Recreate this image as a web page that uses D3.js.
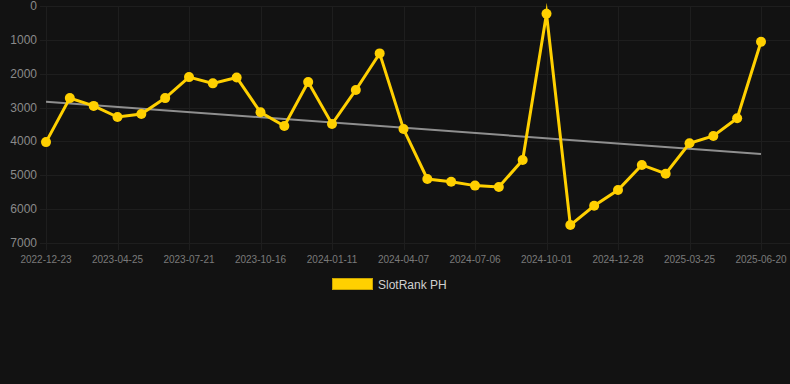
<!DOCTYPE html>
<html><head><meta charset="utf-8">
<script src="https://cdn.jsdelivr.net/npm/d3@7"></script>
<style>html,body{margin:0;padding:0;background:#121212;}svg{display:block;}</style>
</head><body>
<svg id="c" width="790" height="384"></svg>
<script>
const dates = ["2022-12-23","2023-02-02","2023-03-15","2023-04-25","2023-05-24","2023-06-22","2023-07-21","2023-08-19","2023-09-17","2023-10-16","2023-11-14","2023-12-13","2024-01-11","2024-02-09","2024-03-09","2024-04-07","2024-05-07","2024-06-06","2024-07-06","2024-08-04","2024-09-02","2024-10-01","2024-10-30","2024-11-28","2024-12-28","2025-01-26","2025-02-24","2025-03-25","2025-04-23","2025-05-22","2025-06-20"];
const rankValues = [4020,2720,2950,3280,3190,2720,2100,2285,2110,3140,3545,2245,3485,2480,1400,3635,5110,5190,5305,5345,4550,230,6470,5900,5435,4695,4955,4055,3840,3315,1055];
const xTickLabels = ["2022-12-23","2023-04-25","2023-07-21","2023-10-16","2024-01-11","2024-04-07","2024-07-06","2024-10-01","2024-12-28","2025-03-25","2025-06-20"];
const yTicks = [0,1000,2000,3000,4000,5000,6000,7000];
const trendStart = 2825, trendEnd = 4370;
const seriesName = "SlotRank PH";

const svg = d3.select("#c");
const x = d3.scalePoint().domain(dates).range([46, 761]);
const y = d3.scaleLinear().domain([0, 7000]).range([6, 243]);
const gridColor = "#1e1e1e";

// horizontal grid
svg.append("g").selectAll("line").data(yTicks).join("line")
  .attr("x1", 40).attr("x2", 790)
  .attr("y1", d => Math.round(y(d)) + 0.5).attr("y2", d => Math.round(y(d)) + 0.5)
  .attr("stroke", gridColor).attr("stroke-width", 1);
// vertical grid
svg.append("g").selectAll("line").data(xTickLabels).join("line")
  .attr("x1", d => Math.round(x(d)) + 0.5).attr("x2", d => Math.round(x(d)) + 0.5)
  .attr("y1", 6).attr("y2", 250)
  .attr("stroke", gridColor).attr("stroke-width", 1);

// y labels
svg.append("g").selectAll("text").data(yTicks).join("text")
  .attr("x", 37).attr("y", d => y(d) + 4)
  .attr("text-anchor", "end")
  .attr("font-family", "Liberation Sans, Arial, sans-serif").attr("font-size", 12)
  .attr("fill", "#8a8a8a").text(d => d);
// x labels
svg.append("g").selectAll("text").data(xTickLabels).join("text")
  .attr("x", d => x(d)).attr("y", 263)
  .attr("text-anchor", "middle")
  .attr("font-family", "Liberation Sans, Arial, sans-serif").attr("font-size", 10)
  .attr("fill", "#7a7a7a").text(d => d);

// trend line
svg.append("line")
  .attr("x1", x(dates[0])).attr("y1", y(trendStart))
  .attr("x2", x(dates[dates.length-1])).attr("y2", y(trendEnd))
  .attr("stroke", "#8f8f8f").attr("stroke-width", 2);

// series line
const line = d3.line().x((d,i) => x(dates[i])).y(d => y(d));
svg.append("path").datum(rankValues)
  .attr("d", line).attr("fill", "none")
  .attr("stroke", "#FFD000").attr("stroke-width", 3)
  .attr("stroke-linejoin", "miter").attr("stroke-miterlimit", 10);
svg.append("g").selectAll("circle").data(rankValues).join("circle")
  .attr("cx", (d,i) => x(dates[i])).attr("cy", d => y(d)).attr("r", 5)
  .attr("fill", "#FFD000");

// legend
svg.append("rect").attr("x", 332.5).attr("y", 278.5).attr("width", 40).attr("height", 11)
  .attr("fill", "#FFD000").attr("stroke", "#c9a400").attr("stroke-width", 1);
svg.append("text").attr("x", 378).attr("y", 288.5)
  .attr("font-family", "Liberation Sans, Arial, sans-serif").attr("font-size", 12)
  .attr("fill", "#d0d0d0").text(seriesName);
</script>
</body></html>
